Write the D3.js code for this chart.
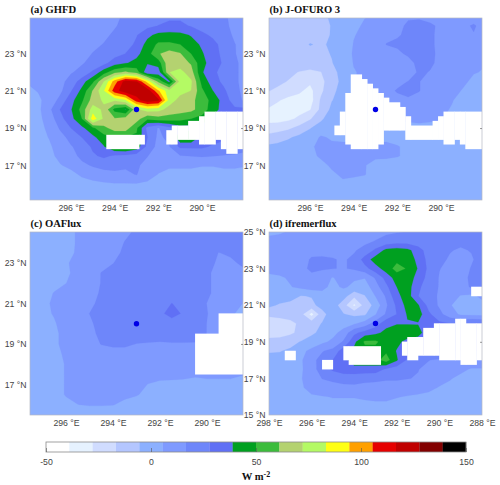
<!DOCTYPE html>
<html><head><meta charset="utf-8">
<style>html,body{margin:0;padding:0;background:#fff}svg{display:block}</style>
<script src="https://d3js.org/d3.v7.min.js"></script>
</head><body><svg id="c" width="500" height="485"></svg>
<script>
// Colour bar
const barEdges = d3.range(19).map(i => -50 + i * 200 / 18);
const barColors = ["#ffffff","#e6f2ff","#d0dcff","#b4c6ff","#8cb0ff","#7f9aff","#6e86fa","#6070f5","#00a020","#3cbc3c","#b4d270","#b4fa64","#ffff14","#ffa000","#e60000","#c00000","#820000","#000000"];
const barTicks = [-50,0,50,100,150];

// Gridded flux, W m-2: rows run lat 25 to 15, columns run lon 298 to 288, every 0.5 degree
const gridA = [
[8,8,9,9,10,11,12,14,15,18,20,22,24,26,26,24,22,20,18,14,13],
[8,8,9,9,10,11,12,14,16,19,22,25,28,30,30,27,24,22,19,14,12],
[8,8,9,10,11,12,13,15,18,21,27,36,42,43,42,38,30,26,21,15,12],
[8,8,9,10,12,13,15,17,19,23,30,43,52,52,50,44,37,31,24,17,13],
[8,8,9,10,13,14,17,20,23,28,36,45,60,66,62,50,40,32,25,17,14],
[8,8,9,11,14,16,19,24,34,38,42,40,44,70,66,60,42,34,26,18,14],
[6,8,10,13,16,19,30,45,58,63,56,30,32,72,76,66,40,30,24,18,14],
[6,7,10,14,20,34,48,72,100,122,118,90,58,36,76,74,46,33,25,18,14],
[4,6,9,14,27,42,62,82,112,124,124,124,96,76,76,72,52,39,30,19,14],
[2,4,9,20,35,48,66,74,74,82,112,125,120,78,68,64,56,46,34,22,14],
[1,3,14,28,38,54,78,70,46,38,70,78,76,68,66,64,56,44,34,30,30],
[0,3,10,24,35,50,90,70,62,66,66,52,56,56,54,50,46,36,28,30,30],
[0,2,8,18,28,36,48,58,66,66,52,24,16,24,34,34,34,34,34,30,26],
[0,2,6,13,20,28,36,46,50,50,48,28,14,20,50,50,34,34,30,28,24],
[0,1,4,10,16,20,30,38,50,52,46,24,13,16,30,30,30,26,24,24,20],
[0,1,3,8,12,20,26,30,26,25,22,17,12,11,16,17,18,17,16,15,14],
[0,1,2,5,8,14,18,20,19,18,18,14,10,7,7,7,6,6,7,7,6],
[0,0,1,2,3,7,10,13,15,15,17,12,5,3,3,3,3,3,3,3,3],
[0,0,0,0,1,2,3,4,5,5,5,3,2,2,2,2,2,2,2,2,2],
[0,0,0,0,0,0,0,1,1,1,1,1,1,1,1,1,1,1,1,1,1],
[0,0,0,0,0,0,0,0,0,0,0,0,0,0,0,0,0,0,0,0,0]];

const gridB = [
[-10,-10,-10,-10,-10,-8,-4,-2,0,5,7,8,9,15,15,12,10,10,10,11,10],
[-10,-10,-10,-11,-10,-9,-5,-2,3,7,9,11,13,19,20,19,14,11,14,18,12],
[-12,-11,-10,-10,-10,-8,-5,-1,5,8,10,14,16,18,21,19,13,10,12,16,11],
[-11,-10,-10,-10,-5,-7,-4,-1,6,8,10,17,18,20,21,19,13,10,9,11,10],
[-12,-12,-11,-10,-9,-8,-5,-2,7,9,10,11,15,18,21,19,14,10,9,8,8],
[-14,-14,-14,-13,-11,-10,-6,-1,6,7,8,9,10,14,19,19,13,9,8,7,6],
[-14,-14,-15,-17,-19,-17,-8,-3,5,7,8,10,10,9,19,16,12,9,7,6,5],
[-15,-15,-17,-20,-26,-20,-10,-3,5,7,9,11,13,17,17,13,12,9,7,4,3],
[-16,-18,-20,-26,-31,-19,-8,-2,5,7,9,12,18,20,17,13,11,8,5,3,2],
[-22,-26,-32,-32,-33,-15,-6,-1,5,7,9,9,12,15,13,11,9,6,3,2,2],
[-28,-33,-33,-31,-28.5,-14,-3,3,5,6,7,8,9,10,10,9,7,5,3,2,2],
[-31,-32,-30,-26,-18,-7,-1,2,4,5,6,7,7,7,8,7,6,4,2,1,1],
[-24,-22,-19,-13,-6,-2,0,1,3,3,3,3,3,3,3,3,3,3,2,1,1],
[-13,-10,-7,-3,-1,7,4,3,3,3,3,3,3,3,3,3,3,3,2,1,1],
[-4,-3,-1,0,4,8,8,8,8,8,8,8,6,4,3,3,3,3,2,2,2],
[0,0,0,0,3,7,8,8,8,8,7,7,6,4,2,2,2,2,2,2,3],
[0,0,0,0,1,3,7,8,8,6,3,2,2,2,2,2,2,3,5,4,6],
[0,0,0,0,0,1,4,7,7,6,2,1,1,1,1,1,2,3,4,2,2],
[0,0,0,0,0,1,2,4,2,1,1,1,1,1,1,1,1,1,1,1,1],
[0,0,0,0,0,0,0,1,1,1,1,1,1,1,1,1,1,1,1,1,1],
[0,0,0,0,0,0,0,0,0,0,0,0,0,0,0,0,0,0,0,0,0]];

const gridC = [
[0,1,2,3,4,6,8,10,12,14,17,18,19,20,21,21,21,21,20,20,19],
[0,1,2,3,4,6,8,10,12,15,18,19,20,21,21,21,21,21,21,20,20],
[0,1,2,3,4,6,8,10,13,17,19,20,21,21,21,21,21,21,20,20,20],
[0,1,2,3,4.5,6,9,11,14.5,18,20,21,21,21,21,21,20,16.5,18,20,21],
[0,1,2,3,5.4,6,9,13,16.5,19,20,21,21,21,21,21,19,15.5,15,18,20],
[0,1,2,3,5,6.5,10,17,19,20,21,21,21,21,21,21,18,14,13,14.5,17],
[0,1,2,3,5.5,7,12,17,19,20,21,21,21,21,21,20,18,14,13,12,12],
[0,1,2,6,8,10,14,17.5,20,21,21,21,21,21,21,20,18,14,12,11,10],
[0,1,4,6.5,8,10,15.5,18,20,21,21,21,22,28,24,21,16.5,12,10,5.6,5],
[0,1,4,6,8,11,16.7,18,20,21,21,22,26.5,30,27,21,17,12,7,3,2],
[0,1,3,5,8,11,16,18,20,21,21,21,22,25,25,21,16.5,12,8,4,2],
[0,1,2,4,8,11,15,18,20,21,21,21,21,21,21,20,16.5,14,12,10,8],
[0,1,2,4,8,11,13,17,18,18,16.5,16,15.5,16,16,16,15,14,13,12,11],
[0,0,2,3,7,10,12,13,14,14,14,14,14,14,14,14,13,12,11,10,9],
[0,0,1,3,6,9,10,11,11,11,11,12,12,12,12,12,11,10,9,8,7],
[0,0,1,3,6,8,9,10,10,10,9,8,8,7.5,7,6,6,6,6,6,5],
[0,0,1,3,6,8,8,8,8,8,7,5.4,4,4,4,4.5,5,5,5,2,2],
[0,0,1,3,6,7,7,7,7,7,6,4,3,2,2,2,2,2,2,1,1],
[0,0,1,2,4,5.5,6,6,5.8,4,3,2,2,1,1,1,1,1,1,1,1],
[0,0,0,1,2,2,2,2,2,2,1,1,1,1,1,1,1,1,1,1,1],
[0,0,0,0,0,0,0,0,0,0,0,0,0,0,0,0,0,0,0,0,0]];

const gridD = [
[3,4,7,10,11,12,13,13,13,13,14,15,16,17,17,18,19,20,20,20,20],
[9,10,10,11,12,12,13,14,14,15,17,20,22,22,20,18,18,18,18,19,20],
[10,10,11,11,13,14,15,15,16,19,30,42,44,42,33,22,18,17,16,17,20],
[10,11,11,12,18,18,17,16,18,33,44,44,47,45,36,24,18,16,14,16,19],
[9,10,11,12,20,18,17,16,18,24,34,44,54,49,38,25,17,14,14,17,18],
[3,4,7,10,12,9,5,10,7,6,18,32,44,46,34,24,16,13,14,18,18],
[2,2,5,8,11,8,3,7,3,0,12,25,38.9,44,30,22,16,12,12,18,18],
[0,1,0,-6,-5,2,-3,-1,-14,-6,6,18,36,44,28,22,15,10,5,3,8],
[-3,-7,-10,-10,-8,-2,0,-12,-30,-12,-2,15,30,43,40,24,15,6,3,2,2],
[-14,-12,-11,-13,-32,-9,0,-5,-8,-7,5,18,28,40,44,30,20,10,4,3,2],
[-24,-24,-20,-14,-10,-5,-5,0,4,10,22,35,38,38,38,32,30,28,28,28,28],
[-22,-22,-19,-13,-8,-2,2,10,25,32,36,42,46,46,44,30,28,28,28,28,28],
[-13,-12,-9,-5,0,3,8,18,36,52,52,44,42,35,32,28,28,28,28,28,28],
[-6,-6,-4,3,8,16,20,34,42,46,46,48,38,30,28,28,28,28,28,28,28],
[-4,-3,0,4,14,20,28,33,46,46,46,55,40,26,20,17,15,14,12,10,10],
[2,2,3,4,12,22,30,34,34,34,34,26,22,18,17,14,12,9,7,5,5],
[2,3,4,5,10,17,19,21,22,20,19,18,18,17,16,13,9,6,4,3,3],
[3,3,4,5,7,12,13,14,14,13,13,12,12,11,10,8,5,4,3,2,2],
[3,3,3,4,5,5,6,6,6,7,8,8,6,5,4,3,2,2,2,2,2],
[2,2,2,3,3,3,3,3,3,3,3,3,3,2,2,2,2,2,2,2,2],
[2,2,2,2,2,2,2,2,2,2,2,2,2,2,2,2,2,2,2,2,2]];

// Missing cells: [lon start, lon end, lat top, lat bottom]
const gapsA = [[294.375,292.875,18.625,17.875],[292.875,292.625,18.625,18.125],[291.625,291.375,18.875,18.125],[291.375,291.125,19.125,18.125],[291.125,290.625,19.125,18.375],[290.625,290.125,19.375,18.375],[290.125,289.875,19.625,18.125],[289.875,289.375,19.875,18.125],[289.375,289.125,19.875,18.375],[289.125,288.875,19.875,17.875],[288.875,288.375,19.875,17.625],[288.375,288,19.875,17.875]];
const gapsB = [[294.875,294.625,19.125,18.625],[294.625,294.375,19.875,18.625],[294.375,294.125,20.875,18.125],[294.125,293.625,21.875,17.875],[293.625,293.375,21.625,17.875],[293.375,293.125,21.375,17.875],[293.125,292.875,21.125,17.875],[292.875,292.625,20.875,18.125],[292.625,292.375,20.625,18.875],[292.375,291.875,20.375,18.875],[291.875,291.625,20.125,18.875],[291.625,291.375,19.625,18.375],[291.375,290.375,19.125,18.375],[290.375,290.125,19.375,18.375],[290.125,289.875,19.625,18.375],[289.875,289.375,19.875,18.125],[289.375,289.125,19.875,18.375],[289.125,288.875,19.875,18.125],[288.875,288,19.875,17.875]];
const gapsC = [[290.5,288,19.5,17.5],[289.5,288,20.5,19.5]];
const gapsD = [[297.25,296.75,18.5,18],[295.5,295,18,17.5],[288.5,288,22,21.5],[294.5,294.25,18.75,18],[294.25,292.75,18.75,17.75],[291.75,291.5,19,18.25],[291.5,291,19.25,18],[291,290.75,19.25,18.25],[290.75,290.25,19.75,18.25],[290.25,290,20,18.25],[290,289.25,20,18],[289.25,289,20.25,18],[289,288.75,20.25,17.75],[288.75,288.25,20,17.75],[288.25,288,20,18]];

const lonTicksShort = [296,294,292,290];
const lonTicksFull = [298,296,294,292,290,288];
const latTicksShort = [23,21,19,17];
const latTicksFull = [25,23,21,19,17,15];
const station = [293,20];

const panels = [
 {title:"(a) GHFD",grid:gridA,gaps:gapsA,x:[30,243],y:[18,200],lon:[297.88,288.12],lat:[24.92,15.13],lonT:lonTicksShort,latT:latTicksShort},
 {title:"(b) J-OFURO 3",grid:gridB,gaps:gapsB,x:[269,482],y:[18,200],lon:[297.88,288.12],lat:[24.92,15.13],lonT:lonTicksShort,latT:latTicksShort},
 {title:"(c) OAFlux",grid:gridC,gaps:gapsC,x:[30,243],y:[232,415],lon:[297.53,288.47],lat:[24.53,15.49],lonT:lonTicksShort,latT:latTicksShort},
 {title:"(d) ifremerflux",grid:gridD,gaps:gapsD,x:[269,482],y:[232,415],lon:[298,288],lat:[25,15],lonT:lonTicksFull,latT:latTicksFull}
];

const sans = "'Liberation Sans',Arial,sans-serif", serif = "'Liberation Serif','Times New Roman',serif";
const svg = d3.select("#c");
const defs = svg.append("defs");
const deg = d => d + " °";

panels.forEach((p,i) => {
  const xs = d3.scaleLinear().domain(p.lon).range(p.x);
  const ys = d3.scaleLinear().domain(p.lat).range(p.y);
  const g = svg.append("g");
  defs.append("clipPath").attr("id","clip"+i).append("rect")
    .attr("x",p.x[0]).attr("y",p.y[0]).attr("width",p.x[1]-p.x[0]).attr("height",p.y[1]-p.y[0]);
  const body = g.append("g").attr("clip-path",`url(#clip${i})`);
  const nx = p.grid[0].length, ny = p.grid.length;
  const proj = d3.geoTransform({point(a,b){
    this.stream.point(xs(298-(a-0.5)*0.5), ys(25-(b-0.5)*0.5));
  }});
  const path = d3.geoPath(proj);
  const conts = d3.contours().size([nx,ny]).thresholds(barEdges.slice(0,-1))(d3.merge(p.grid));
  body.selectAll("path.band").data(conts).join("path").attr("class","band")
    .attr("d",path).attr("fill",(d,k)=>barColors[k]).attr("stroke",(d,k)=>barColors[k]).attr("stroke-width",0.2);
  body.selectAll("rect.gap").data(p.gaps).join("rect").attr("class","gap")
    .attr("x",d=>xs(d[0])-0.2).attr("width",d=>xs(d[1])-xs(d[0])+0.4)
    .attr("y",d=>ys(d[2])-0.2).attr("height",d=>ys(d[3])-ys(d[2])+0.4).attr("fill","#fff");
  // frame
  g.append("rect").attr("x",p.x[0]).attr("y",p.y[0]).attr("width",p.x[1]-p.x[0]).attr("height",p.y[1]-p.y[0])
    .attr("fill","none").attr("stroke","#b4b8c4").attr("stroke-width",0.7);
  // axes
  const ax = g.append("g").attr("transform",`translate(0,${p.y[1]})`)
    .call(d3.axisBottom(xs).tickValues(p.lonT).tickSize(0).tickPadding(5).tickFormat(d=>deg(d)+"E"));
  const ay = g.append("g").attr("transform",`translate(${p.x[0]},0)`)
    .call(d3.axisLeft(ys).tickValues(p.latT).tickSize(0).tickPadding(3.5).tickFormat(d=>deg(d)+"N"));
  [ax,ay].forEach(a=>{a.select(".domain").remove();
    a.selectAll("text").attr("font-family",sans).attr("font-size",8.7).attr("fill","#444");});
  // right-hand ticks only show where a gap reaches the frame
  const rightLat = p.latT.filter(l=>p.gaps.some(d=>d[1]<=p.lon[1]+0.2 && d[2]>=l && d[3]<=l));
  const ar = g.append("g").attr("transform",`translate(${p.x[1]},0)`)
    .call(d3.axisLeft(ys).tickValues(rightLat).tickSize(2).tickFormat(""));
  ar.select(".domain").remove();
  ar.selectAll("line").attr("stroke","#555").attr("stroke-width",0.6);
  // station
  g.append("circle").attr("cx",xs(station[0])).attr("cy",ys(station[1])).attr("r",2.7).attr("fill","#0000e6");
  g.append("text").attr("x",p.x[0]+0.5).attr("y",p.y[0]-5).text(p.title)
    .attr("font-family",serif).attr("font-weight","bold").attr("font-size",10.6).attr("fill","#111");
});

// Colour bar
const bx = d3.scaleLinear().domain([-50,150]).range([46,466]);
const by = [442,452];
const bar = svg.append("g");
bar.selectAll("rect.c").data(barColors).join("rect").attr("class","c")
  .attr("x",(d,i)=>bx(barEdges[i])).attr("width",(d,i)=>bx(barEdges[i+1])-bx(barEdges[i])+0.2)
  .attr("y",by[0]).attr("height",by[1]-by[0]).attr("fill",d=>d);
bar.append("rect").attr("x",46).attr("y",by[0]).attr("width",420).attr("height",by[1]-by[0])
  .attr("fill","none").attr("stroke","#8a8a8a").attr("stroke-width",0.8);
const ab = bar.append("g").attr("transform",`translate(0,${by[1]})`)
  .call(d3.axisBottom(bx).tickValues(barTicks).tickSize(-4).tickPadding(7).tickFormat(d=>String(d)));
ab.select(".domain").remove();
ab.selectAll("line").attr("stroke","#555").attr("stroke-width",0.6);
ab.selectAll("text").attr("font-family",sans).attr("font-size",8.7).attr("fill","#444");
const unit = svg.append("text").attr("x",256).attr("y",480).attr("text-anchor","middle")
  .attr("font-family",serif).attr("font-weight","bold").attr("font-size",10.6).attr("fill","#111");
unit.append("tspan").text("W m");
unit.append("tspan").text("-2").attr("dy",-3.5).attr("font-size",8);
</script></body></html>
